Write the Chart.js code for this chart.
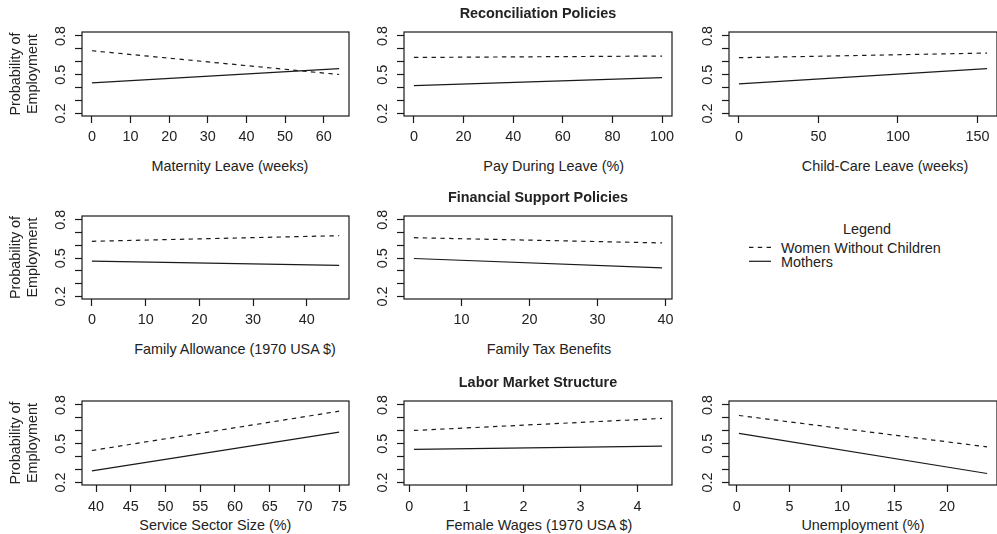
<!DOCTYPE html>
<html>
<head>
<meta charset="utf-8">
<title>Probability of Employment</title>
<script src="https://cdn.jsdelivr.net/npm/chart.js@4.4.1/dist/chart.umd.min.js"></script>
<style>
  body { margin: 0; width: 997px; height: 534px; overflow: hidden; background: #fff; position: relative;
         font-family: "Liberation Sans", Arial, Helvetica, sans-serif; color: #222; }
  canvas { position: absolute; }
  .lbl { position: absolute; font-size: 14.4px; line-height: 17px; white-space: nowrap; transform: translate(-50%, -50%); }
  .key { position: absolute; font-size: 14.4px; line-height: 17px; white-space: nowrap; transform: translateY(-50%); }
</style>
</head>
<body>

<div class="lbl" style="left:230px;top:165.5px">Maternity Leave (weeks)</div>
<div class="lbl" style="left:553.7px;top:165.5px">Pay During Leave (%)</div>
<div class="lbl" style="left:885px;top:165.5px">Child-Care Leave (weeks)</div>
<div class="lbl" style="left:235px;top:349px">Family Allowance (1970 USA $)</div>
<div class="lbl" style="left:549px;top:349px">Family Tax Benefits</div>
<div class="lbl" style="left:215.3px;top:525px">Service Sector Size (%)</div>
<div class="lbl" style="left:539px;top:525px">Female Wages (1970 USA $)</div>
<div class="lbl" style="left:863px;top:525px">Unemployment (%)</div>

<!-- legend -->
<div class="lbl" style="left:867px;top:229px">Legend</div>
<svg style="position:absolute;left:740px;top:240px" width="40" height="30">
  <line x1="9" y1="7.3" x2="31" y2="7.3" stroke="#1a1a1a" stroke-width="1.2" stroke-dasharray="4.4 4.4"/>
  <line x1="9" y1="21.3" x2="31" y2="21.3" stroke="#1a1a1a" stroke-width="1.2"/>
</svg>
<div class="key" style="left:781px;top:247.5px">Women Without Children</div>
<div class="key" style="left:781px;top:261.5px">Mothers</div>

<script>
// y axis (same for all panels)
var yTicks = [0.2, 0.3, 0.4, 0.5, 0.6, 0.7, 0.8];
var yLabeled = [0.2, 0.5, 0.8];
var yLimits = [0.18, 0.83];

// Reconciliation Policies
var maternityX = [0, 64];
var maternityWomen = [0.685, 0.501];
var maternityMothers = [0.436, 0.547];
var maternityTicks = [0, 10, 20, 30, 40, 50, 60];

var payX = [0, 100];
var payWomen = [0.633, 0.644];
var payMothers = [0.415, 0.477];
var payTicks = [0, 20, 40, 60, 80, 100];

var childCareX = [0, 156];
var childCareWomen = [0.631, 0.667];
var childCareMothers = [0.428, 0.547];
var childCareTicks = [0, 50, 100, 150];

// Financial Support Policies
var allowanceX = [0, 46];
var allowanceWomen = [0.632, 0.676];
var allowanceMothers = [0.477, 0.443];
var allowanceTicks = [0, 10, 20, 30, 40];

var taxX = [3, 39.5];
var taxWomen = [0.660, 0.619];
var taxMothers = [0.497, 0.423];
var taxTicks = [10, 20, 30, 40];

// Labor Market Structure
var serviceX = [39.4, 75];
var serviceWomen = [0.447, 0.751];
var serviceMothers = [0.290, 0.589];
var serviceTicks = [40, 45, 50, 55, 60, 65, 70, 75];

var wagesX = [0.08, 4.43];
var wagesWomen = [0.602, 0.695];
var wagesMothers = [0.455, 0.481];
var wagesTicks = [0, 1, 2, 3, 4];

var unempX = [0.2, 23.8];
var unempWomen = [0.718, 0.475];
var unempMothers = [0.579, 0.269];
var unempTicks = [0, 5, 10, 15, 20];

var ink = '#1a1a1a';
var textInk = '#222';
var font = { family: '"Liberation Sans", Arial, Helvetica, sans-serif', size: 14.4 };

// panel grid
var colLeft = [82, 404, 729];
var colWidth = [267, 268, 268];
var rowTop = [32, 216, 401];
var rowHeight = [84, 83, 84];
var tickPad = [5, 5.4, 6.8];
var titleGap = 18;

var panels = [
  { row: 0, col: 0, x: maternityX, women: maternityWomen, mothers: maternityMothers, ticks: maternityTicks },
  { row: 0, col: 1, x: payX, women: payWomen, mothers: payMothers, ticks: payTicks, title: 'Reconciliation Policies' },
  { row: 0, col: 2, x: childCareX, women: childCareWomen, mothers: childCareMothers, ticks: childCareTicks },
  { row: 1, col: 0, x: allowanceX, women: allowanceWomen, mothers: allowanceMothers, ticks: allowanceTicks },
  { row: 1, col: 1, x: taxX, women: taxWomen, mothers: taxMothers, ticks: taxTicks, title: 'Financial Support Policies' },
  { row: 2, col: 0, x: serviceX, women: serviceWomen, mothers: serviceMothers, ticks: serviceTicks },
  { row: 2, col: 1, x: wagesX, women: wagesWomen, mothers: wagesMothers, ticks: wagesTicks, title: 'Labor Market Structure' },
  { row: 2, col: 2, x: unempX, women: unempWomen, mothers: unempMothers, ticks: unempTicks }
];

// box round the plot region
var frame = {
  id: 'frame',
  afterDatasetsDraw: function (chart) {
    var a = chart.chartArea, ctx = chart.ctx;
    ctx.save();
    ctx.strokeStyle = ink;
    ctx.lineWidth = 1.2;
    ctx.strokeRect(a.left, a.top, a.right - a.left, a.bottom - a.top);
    ctx.restore();
  }
};

function points(xs, ys) {
  return xs.map(function (v, i) { return { x: v, y: ys[i] }; });
}

panels.forEach(function (p) {
  var boxL = colLeft[p.col], boxW = colWidth[p.col];
  var boxT = rowTop[p.row], boxH = rowHeight[p.row];
  var padL = p.col === 0 ? 80 : 55;
  var padT = 30, padB = 30, padR = 15;

  var canvas = document.createElement('canvas');
  canvas.width = padL + boxW + padR;
  canvas.height = padT + boxH + padB;
  canvas.style.left = (boxL - padL) + 'px';
  canvas.style.top = (boxT - padT) + 'px';
  document.body.appendChild(canvas);

  var xMin = Math.min.apply(null, p.x), xMax = Math.max.apply(null, p.x);
  var span = xMax - xMin;
  var lh = 1.2 * font.size;
  var tPadTop = padT - titleGap - lh / 2;

  new Chart(canvas, {
    type: 'line',
    data: {
      datasets: [{
        label: 'Women Without Children',
        data: points(p.x, p.women),
        borderColor: ink,
        borderWidth: 1.2,
        borderDash: [4.4, 4.4],
        pointRadius: 0,
        fill: false
      }, {
        label: 'Mothers',
        data: points(p.x, p.mothers),
        borderColor: ink,
        borderWidth: 1.2,
        pointRadius: 0,
        fill: false
      }]
    },
    options: {
      responsive: false,
      animation: false,
      devicePixelRatio: 1,
      layout: { padding: { left: 0, right: padR, top: p.title ? 0 : padT, bottom: 0 } },
      plugins: {
        legend: { display: false },
        tooltip: { enabled: false },
        title: {
          display: !!p.title,
          text: p.title || '',
          fullSize: false,
          color: textInk,
          font: { family: font.family, size: font.size, weight: 'bold', lineHeight: 1.2 },
          padding: { top: tPadTop, bottom: padT - tPadTop - lh }
        }
      },
      scales: {
        x: {
          type: 'linear',
          bounds: 'data',
          min: xMin - 0.04 * span,
          max: xMax + 0.04 * span,
          afterBuildTicks: function (scale) {
            scale.ticks = p.ticks.map(function (v) { return { value: v }; });
          },
          afterFit: function (scale) { scale.height = padB; },
          grid: { display: true, drawOnChartArea: false, drawTicks: true, tickLength: 7, tickColor: ink, tickWidth: 1.2 },
          border: { display: false },
          ticks: {
            autoSkip: false, maxRotation: 0, minRotation: 0,
            padding: tickPad[p.row], color: textInk,
            font: { family: font.family, size: font.size, lineHeight: 1.2 },
            callback: function (v) { return String(v); }
          }
        },
        y: {
          type: 'linear',
          bounds: 'data',
          min: yLimits[0],
          max: yLimits[1],
          afterBuildTicks: function (scale) {
            scale.ticks = yTicks.map(function (v) { return { value: v }; });
          },
          afterFit: function (scale) { scale.width = padL; },
          grid: { display: true, drawOnChartArea: false, drawTicks: true, tickLength: 7, tickColor: ink, tickWidth: 1.2 },
          border: { display: false },
          ticks: {
            autoSkip: false, minRotation: 90, maxRotation: 90, crossAlign: 'center',
            padding: 4, color: textInk,
            font: { family: font.family, size: font.size, lineHeight: 1.2 },
            callback: function (v) { return yLabeled.indexOf(v) >= 0 ? v.toFixed(1) : ''; }
          },
          title: {
            display: p.col === 0,
            text: ['Probability of', 'Employment'],
            color: textInk,
            font: { family: font.family, size: font.size, lineHeight: 1.15 },
            padding: { top: 5.7, bottom: 0 }
          }
        }
      }
    },
    plugins: [frame]
  });
});
</script>
</body>
</html>
